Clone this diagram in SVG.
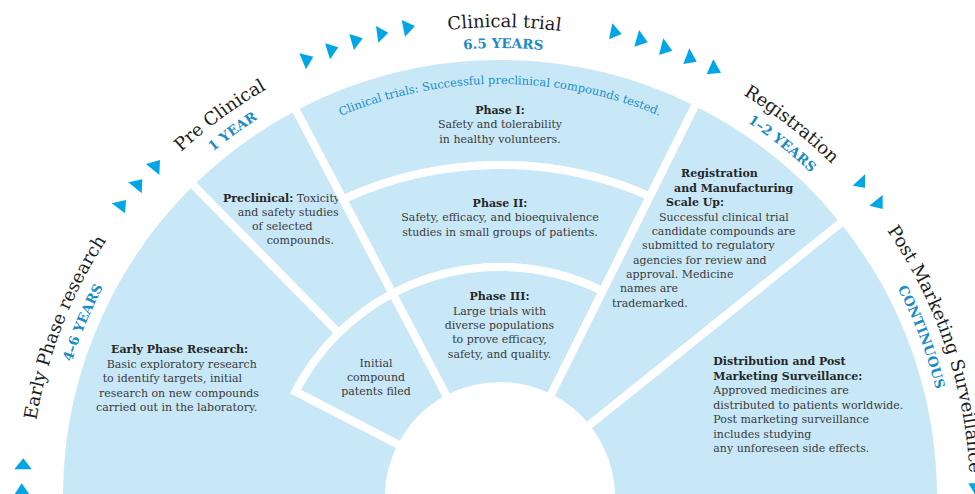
<svg xmlns="http://www.w3.org/2000/svg" width="975" height="494" viewBox="0 0 975 494">
<defs>
<style>
.seg{fill:#c8e8f8;stroke:#ffffff;stroke-width:8;stroke-linejoin:miter}
.t{font-family:"DejaVu Serif","Liberation Serif",serif;font-size:11px;fill:#3a3a3a}
.b{font-weight:bold;fill:#262626}
.c{text-anchor:middle}
.lab{font-family:"DejaVu Serif","Liberation Serif",serif;font-size:18px;fill:#1e1e1e}
.yr{font-family:"DejaVu Serif","Liberation Serif",serif;font-size:13.5px;font-weight:bold;fill:#1b8cc6}
.tri{fill:#00a6e6}
.sub{font-family:"DejaVu Serif","Liberation Serif",serif;font-size:11.5px;fill:#1b8cc6}
</style>
<path id="pLab" d="M58.3,657.7 A470,470 0 1 1 941.7,657.7"/>
<path id="pYr" d="M78.1,650.6 A449,449 0 1 1 921.9,650.6"/>
<path id="pSub" d="M142.3,290.5 A413,413 0 0 1 857.7,290.5"/>
</defs>
<rect width="975" height="494" fill="#ffffff"/>

<g id="early-phase">
<path class="seg" d="M59.6,520 A441,441 0 0 1 190.9,182.5 L338.8,333 A230,230 0 0 0 295.6,391.5 L401.4,446.1 A111,111 0 0 0 391.4,520 Z"/>
<text class="t"><tspan class="b" x="111" y="353.3">Early Phase Research:</tspan><tspan x="106.7" y="367.7">Basic exploratory research</tspan><tspan x="102.7" y="382.3">to identify targets, initial</tspan><tspan x="99" y="396.7">research on new compounds</tspan><tspan x="96" y="411">carried out in the laboratory.</tspan></text>
</g>

<g id="pre-clinical">
<path class="seg" d="M190.9,182.5 A441,441 0 0 1 294.3,106.9 L392.7,293.5 A230,230 0 0 0 338.8,333 Z"/>
<text class="t"><tspan x="223" y="201.7"><tspan class="b">Preclinical:</tspan> Toxicity</tspan><tspan x="237.7" y="216">and safety studies</tspan><tspan x="252" y="230">of selected</tspan><tspan x="266.7" y="244">compounds.</tspan></text>
</g>

<g id="initial-patents">
<path class="seg" d="M295.6,391.5 A230,230 0 0 1 392.7,293.5 L448.2,398.8 A111,111 0 0 0 401.4,446.1 Z"/>
<text class="t c"><tspan x="376" y="366.7">Initial</tspan><tspan x="376" y="381">compound</tspan><tspan x="376" y="394.7">patents filed</tspan></text>
</g>

<g id="phase-1">
<path class="seg" d="M294.3,106.9 A441,441 0 0 1 696.8,102.3 L649.9,196.3 A375,375 0 0 0 343.1,199.4 Z"/>
<text class="sub"><textPath href="#pSub" startOffset="50%" text-anchor="middle">Clinical trials: Successful preclinical compounds tested.</textPath></text>
<text class="t c"><tspan class="b" x="500" y="113.7">Phase I:</tspan><tspan x="500" y="128.3">Safety and tolerability</tspan><tspan x="500" y="142.5">in healthy volunteers.</tspan></text>
</g>

<g id="phase-2">
<path class="seg" d="M343.1,199.4 A375,375 0 0 1 649.9,196.3 L602.6,291.2 A230,230 0 0 0 392.7,293.5 Z"/>
<text class="t c"><tspan class="b" x="500" y="206.7">Phase II:</tspan><tspan x="500" y="221.2">Safety, efficacy, and bioequivalence</tspan><tspan x="500" y="235.5">studies in small groups of patients.</tspan></text>
</g>

<g id="phase-3">
<path class="seg" d="M392.7,293.5 A230,230 0 0 1 602.6,291.2 L549.5,397.7 A111,111 0 0 0 448.2,398.8 Z"/>
<text class="t c"><tspan class="b" x="499.5" y="300">Phase III:</tspan><tspan x="499.5" y="314.7">Large trials with</tspan><tspan x="499.5" y="329">diverse populations</tspan><tspan x="499.5" y="343.3">to prove efficacy,</tspan><tspan x="499.5" y="357.7">safety, and quality.</tspan></text>
</g>

<g id="registration">
<path class="seg" d="M696.8,102.3 A441,441 0 0 1 843.7,220.7 L586.5,427.4 A111,111 0 0 0 549.5,397.7 Z"/>
<text class="t"><tspan class="b" x="681" y="176.7">Registration</tspan><tspan class="b" x="674" y="191.7">and Manufacturing</tspan><tspan class="b" x="666" y="206">Scale Up:</tspan><tspan x="659" y="220.7">Successful clinical trial</tspan><tspan x="651.7" y="235">candidate compounds are</tspan><tspan x="642" y="249.3">submitted to regulatory</tspan><tspan x="633" y="263.6">agencies for review and</tspan><tspan x="626" y="278">approval. Medicine</tspan><tspan x="620" y="292.3">names are</tspan><tspan x="612" y="306.7">trademarked.</tspan></text>
</g>

<g id="post-marketing">
<path class="seg" d="M843.7,220.7 A441,441 0 0 1 940.4,520 L608.6,520 A111,111 0 0 0 586.5,427.4 Z"/>
<text class="t"><tspan class="b" x="713.3" y="365">Distribution and Post</tspan><tspan class="b" x="713.3" y="380">Marketing Surveillance:</tspan><tspan x="713.3" y="394.3">Approved medicines are</tspan><tspan x="713.3" y="409">distributed to patients worldwide.</tspan><tspan x="713.3" y="423.3">Post marketing surveillance</tspan><tspan x="713.3" y="437.7">includes studying</tspan><tspan x="713.3" y="452.3">any unforeseen side effects.</tspan></text>
</g>

<g id="stage-labels">
<text class="lab" font-size="17"><textPath href="#pLab" startOffset="338.4" text-anchor="middle">Early Phase research</textPath></text>
<text class="yr"><textPath href="#pYr" startOffset="334.6" text-anchor="middle">4–6 YEARS</textPath></text>
<text class="lab"><textPath href="#pLab" startOffset="604.6" text-anchor="middle">Pre Clinical</textPath></text>
<text class="yr"><textPath href="#pYr" startOffset="578.3" text-anchor="middle">1 YEAR</textPath></text>
<text class="lab"><textPath href="#pLab" startOffset="906.4" text-anchor="middle">Clinical trial</textPath></text>
<text class="yr"><textPath href="#pYr" startOffset="865.2" text-anchor="middle">6.5 YEARS</textPath></text>
<text class="lab"><textPath href="#pLab" startOffset="1214" text-anchor="middle">Registration</textPath></text>
<text class="yr"><textPath href="#pYr" startOffset="1164.5" text-anchor="middle">1–2 YEARS</textPath></text>
<text class="lab"><textPath href="#pLab" startOffset="1356.8">Post Marketing Surveillance</textPath></text>
<text class="yr"><textPath href="#pYr" startOffset="1404.3" text-anchor="middle">CONTINUOUS</textPath></text>
</g>

<g id="connectors">
<polygon class="tri" points="23.3,458.3 31.7,469.3 14.3,469.3"/>
<polygon class="tri" points="21.7,483.3 30.5,496 13.5,496"/>
<polygon class="tri" points="111.7,203.3 126,200 125,213.3"/>
<polygon class="tri" points="128.3,182.3 142.3,179.3 141.7,193.3"/>
<polygon class="tri" points="146,164 160,160 159.3,175"/>
<polygon class="tri" points="299.3,53.3 313.3,56.7 306,69.3"/>
<polygon class="tri" points="325,43.3 338.3,47.3 330,59.3"/>
<polygon class="tri" points="349.3,34 362.7,38.3 354,50"/>
<polygon class="tri" points="376,26 388.3,32.7 378.3,42.7"/>
<polygon class="tri" points="401.7,20 415,26 405,36.7"/>
<polygon class="tri" points="612.3,23.3 621.7,34 609,39.3"/>
<polygon class="tri" points="639,30 647.7,42.3 634.3,46.7"/>
<polygon class="tri" points="663.3,38.3 672.3,50.7 659,55"/>
<polygon class="tri" points="689.3,48.3 696.7,61.7 683.3,64"/>
<polygon class="tri" points="713.3,59.3 721,72.7 706.7,74.3"/>
<polygon class="tri" points="865,174.3 865,187.7 852.7,185.7"/>
<polygon class="tri" points="882.7,195 882.7,209 869.3,205.7"/>
<polygon class="tri" points="968.3,483.3 984,483.3 976,496"/>
</g>
</svg>
